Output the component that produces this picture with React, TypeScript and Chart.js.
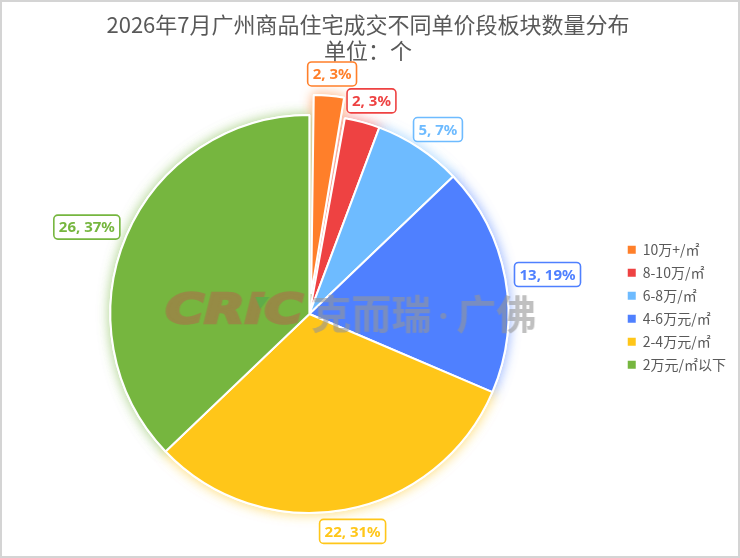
import React, { useEffect, useRef } from "react";
import { Chart, registerables } from "chart.js";

Chart.register(...registerables);

const titleLines = ["2026年7月广州商品住宅成交不同单价段板块数量分布", "单位：个"];
const categories = ["10万+/㎡", "8-10万/㎡", "6-8万/㎡", "4-6万元/㎡", "2-4万元/㎡", "2万元/㎡以下"];
const counts = [2, 2, 5, 13, 22, 26];
const percents = [3, 3, 7, 19, 31, 37];
const colors = ["#FF7F2A", "#EE4242", "#6EBBFF", "#4F80FF", "#FFC619", "#76B63F"];
const explode = [80, 0, 0, 0, 0, 0];

function rgba(hex: string, a: number) {
  const n = parseInt(hex.slice(1), 16);
  return `rgba(${(n >> 16) & 255},${(n >> 8) & 255},${n & 255},${a})`;
}

const framePlugin = {
  id: "frame",
  beforeDraw(chart: any) {
    const { ctx, width, height } = chart;
    ctx.save();
    ctx.fillStyle = "#ffffff";
    ctx.fillRect(0, 0, width, height);
    ctx.strokeStyle = "#D4D4D4";
    ctx.lineWidth = 2;
    ctx.strokeRect(1, 1, width - 2, height - 2);
    ctx.restore();
  },
};

const explodePlugin = {
  id: "explodeFix",
  afterDatasetsUpdate(chart: any) {
    const meta = chart.getDatasetMeta(0);
    meta.data.forEach((arc: any) => {
      const off = arc.options.offset || 0;
      if (off > 0) {
        const circ = arc.endAngle - arc.startAngle;
        const fix = 1 - Math.sin(Math.min(Math.PI, circ));
        arc.outerRadius -= (off / 4) * fix;
      }
    });
  },
};

const glowPlugin = {
  id: "glow",
  beforeDatasetsDraw(chart: any) {
    const ctx = chart.ctx;
    const meta = chart.getDatasetMeta(0);
    meta.data.forEach((arc: any, i: number) => {
      ctx.save();
      ctx.shadowColor = rgba(colors[i], 0.6);
      ctx.shadowBlur = 12;
      arc.draw(ctx);
      ctx.restore();
    });
  },
};

function drawWatermark(ctx: CanvasRenderingContext2D, x: number, y: number) {
  const off = document.createElement("canvas");
  off.width = 420;
  off.height = 70;
  const o = off.getContext("2d") as CanvasRenderingContext2D;
  o.textBaseline = "middle";
  o.save();
  o.translate(4, 36);
  o.scale(1.32, 1);
  o.font = 'italic bold 40px "DejaVu Sans"';
  o.fillStyle = "rgb(172,110,74)";
  o.strokeStyle = "rgb(172,110,74)";
  o.lineWidth = 2.5;
  o.fillText("CRIC", 0, 0);
  o.strokeText("CRIC", 0, 0);
  o.restore();
  o.fillStyle = "rgb(80,165,80)";
  o.beginPath();
  o.moveTo(94, 20);
  o.lineTo(108, 20);
  o.lineTo(99, 32);
  o.closePath();
  o.fill();
  o.font = 'bold 40px "Noto Sans CJK SC"';
  o.fillStyle = "rgb(150,150,150)";
  o.fillText("克而瑞", 150, 37);
  o.beginPath();
  o.arc(150 + 120 + 12, 39, 3, 0, Math.PI * 2);
  o.fill();
  o.fillText("广佛", 150 + 145, 37);
  ctx.save();
  ctx.globalAlpha = 0.6;
  ctx.drawImage(off, x, y);
  ctx.restore();
}

const labelPlugin = {
  id: "outLabels",
  afterDatasetsDraw(chart: any) {
    const ctx = chart.ctx;
    const meta = chart.getDatasetMeta(0);
    if (meta.data.length) {
      const c = meta.data[0];
      drawWatermark(ctx, c.x - 148, c.y - 37);
    }
    meta.data.forEach((arc: any, i: number) => {
      const off = (arc.options.offset || 0) / 4;
      const circ = arc.endAngle - arc.startAngle;
      const fix = 1 - Math.sin(Math.min(Math.PI, circ));
      const R = arc.outerRadius + off * fix;
      const mid = (arc.startAngle + arc.endAngle) / 2;
      const cos = Math.cos(mid);
      const sin = Math.sin(mid);
      const r = R + off + 10;
      const ax = arc.x + cos * r;
      const ay = arc.y + sin * r;
      const text = `${counts[i]}, ${percents[i]}%`;
      ctx.save();
      ctx.font = 'bold 15px "Noto Sans"';
      const tw = ctx.measureText(text).width;
      const w = tw + 10;
      const h = 24;
      const cx = ax + (w / 2) * cos;
      const cy = ay + (h / 2) * sin;
      ctx.beginPath();
      ctx.roundRect(cx - w / 2, cy - h / 2, w, h, 4);
      ctx.fillStyle = "#ffffff";
      ctx.fill();
      ctx.lineWidth = 1.6;
      ctx.strokeStyle = colors[i];
      ctx.stroke();
      ctx.fillStyle = colors[i];
      ctx.textAlign = "center";
      ctx.textBaseline = "middle";
      ctx.fillText(text, cx, cy + 1);
      ctx.restore();
    });
  },
};

export default function App() {
  const ref = useRef<HTMLCanvasElement | null>(null);
  useEffect(() => {
    if (!ref.current) return;
    const chart = new Chart(ref.current, {
      type: "pie",
      data: {
        labels: categories,
        datasets: [
          {
            data: counts,
            backgroundColor: colors,
            borderColor: "#ffffff",
            borderWidth: 2,
            offset: explode,
            hoverOffset: 0,
          } as any,
        ],
      },
      options: {
        animation: false,
        responsive: false,
        radius: 199,
        rotation: 0,
        layout: { padding: { left: 0, right: 4, top: 0, bottom: 0 } },
        plugins: {
          title: {
            display: true,
            text: titleLines,
            color: "#595959",
            font: { family: '"Noto Sans CJK SC"', size: 22, weight: "normal", lineHeight: 1.18 },
            padding: { top: 12, bottom: 6 },
          },
          legend: {
            position: "right",
            align: "center",
            title: {
              display: true,
              text: " ",
              font: { size: 12, lineHeight: 1.2 },
              padding: { top: 42, bottom: 0 },
            },
            labels: {
              boxWidth: 8,
              boxHeight: 8,
              padding: 9,
              color: "#595959",
              font: { family: '"Noto Sans CJK SC"', size: 14 },
              generateLabels: () =>
                categories.map((c, i) => ({
                  text: c,
                  fillStyle: colors[i],
                  strokeStyle: colors[i],
                  lineWidth: 0,
                  hidden: false,
                  index: i,
                  fontColor: "#595959",
                })),
            },
          },
          tooltip: { enabled: false },
        },
      } as any,
      plugins: [framePlugin, explodePlugin, glowPlugin, labelPlugin],
    });
    return () => chart.destroy();
  }, []);
  return (
    <div style={{ position: "fixed", left: 0, top: 0, width: 740, height: 558, background: "#fff" }}>
      <canvas ref={ref} width={740} height={558} style={{ width: 740, height: 558, display: "block" }} />
    </div>
  );
}
